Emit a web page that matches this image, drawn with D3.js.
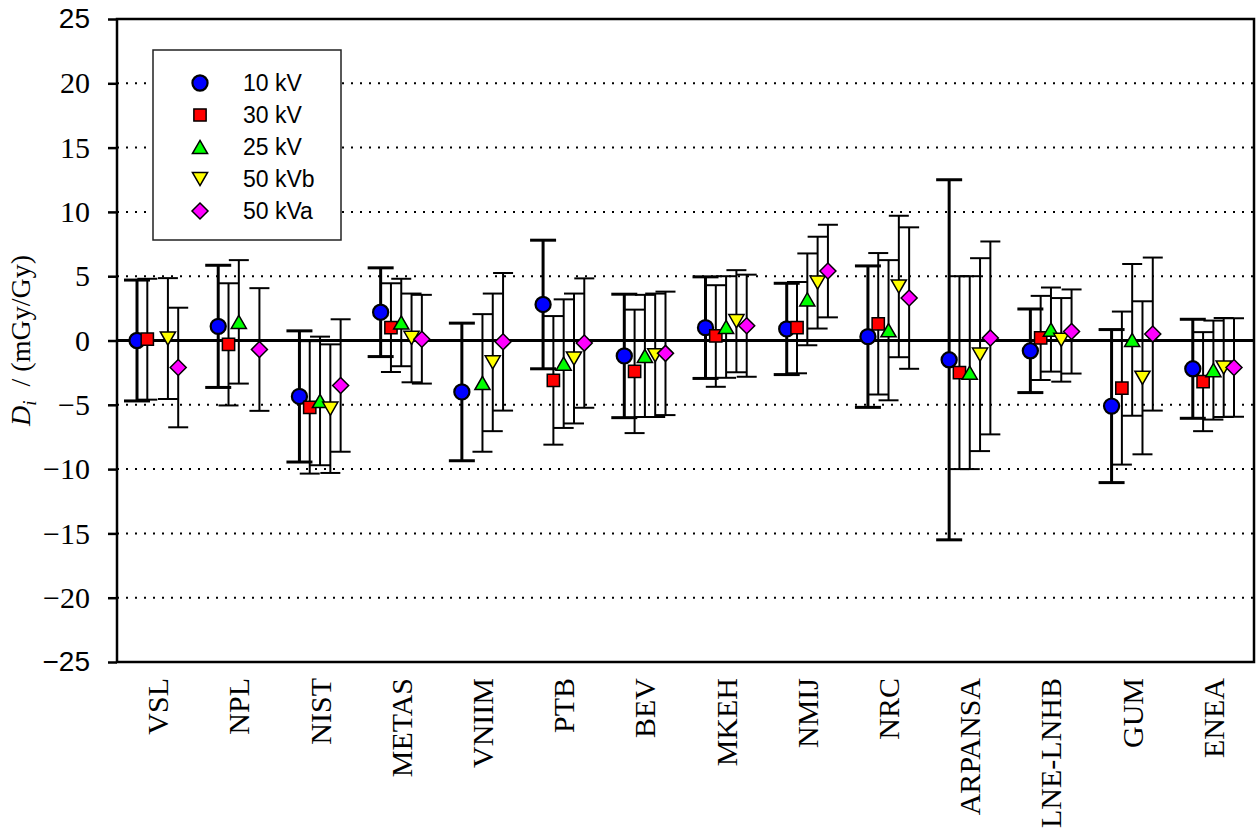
<!DOCTYPE html>
<html>
<head>
<meta charset="utf-8">
<script src="https://cdn.jsdelivr.net/npm/d3@7"></script>
<style>
  body { margin: 0; background: #fff; }
  svg { display: block; }
</style>
</head>
<body>
<div id="viz_container"></div>
<script>
// labs along the x axis
const labs = ["VSL", "NPL", "NIST", "METAS", "VNIIM", "PTB", "BEV", "MKEH",
              "NMIJ", "NRC", "ARPANSA", "LNE-LNHB", "GUM", "ENEA"];

// series names (legend order)
const seriesNames = ["10 kV", "30 kV", "25 kV", "50 kVb", "50 kVa"];

// D_i values in mGy/Gy (null = no result)
const d10  = [0.0, 1.1, -4.35, 2.2, -4.0, 2.8, -1.2, 1.0, 0.9, 0.3, -1.5, -0.8, -5.1, -2.2];
const d30  = [0.1, -0.3, -5.2, 1.0, null, -3.1, -2.4, 0.35, 1.0, 1.3, -2.5, 0.2, -3.7, -3.2];
const d25  = [null, 1.45, -4.7, 1.4, -3.3, -1.8, -1.2, 1.05, 3.2, 0.8, -2.5, 0.85, 0.05, -2.3];
const d50b = [0.15, null, -5.3, 0.2, -1.7, -1.4, -1.15, 1.5, 4.5, 4.2, -1.1, 0.05, -2.9, -2.1];
const d50a = [-2.1, -0.7, -3.5, 0.1, -0.1, -0.2, -1.0, 1.15, 5.4, 3.3, 0.2, 0.7, 0.5, -2.1];

// expanded uncertainties U_i (symmetric error bars)
const u10  = [4.7, 4.75, 5.1, 3.45, 5.35, 5.0, 4.8, 3.95, 3.55, 5.5, 14.0, 3.25, 5.95, 3.85];
const u30  = [4.7, 4.75, 5.15, 3.45, null, 5.0, 4.8, 3.95, 3.55, 5.5, 7.5, 3.27, 5.95, 3.85];
const u25  = [null, 4.8, 5.0, 3.4, 5.35, 5.0, 4.75, 3.95, 3.57, 5.45, 7.5, 3.27, 5.9, 3.85];
const u50b = [4.7, null, 5.0, 3.45, 5.35, 5.05, 4.8, 3.97, 3.57, 5.5, 7.5, 3.25, 5.95, 3.85];
const u50a = [4.65, 4.77, 5.15, 3.45, 5.35, 5.03, 4.8, 3.97, 3.6, 5.5, 7.5, 3.27, 5.95, 3.83];

// y tick values
const yTicks = [-25, -20, -15, -10, -5, 0, 5, 10, 15, 20, 25];
const gridValues = [-20, -15, -10, -5, 5, 10, 15, 20];

// custom marker shapes for d3.symbol
const symSquare = { draw(ctx, size) { const s = Math.sqrt(size) / 2;
  ctx.moveTo(-s, -s); ctx.lineTo(s, -s); ctx.lineTo(s, s); ctx.lineTo(-s, s); ctx.closePath(); } };
const symTriUp = { draw(ctx, size) { const w = Math.sqrt(size) / 2, h = w * 0.87;
  ctx.moveTo(0, -h); ctx.lineTo(w, h); ctx.lineTo(-w, h); ctx.closePath(); } };
const symTriDown = { draw(ctx, size) { const w = Math.sqrt(size) / 2, h = w * 0.87;
  ctx.moveTo(0, h); ctx.lineTo(w, -h); ctx.lineTo(-w, -h); ctx.closePath(); } };
const symDiamond = { draw(ctx, size) { const s = Math.sqrt(size) / 2;
  ctx.moveTo(0, -s); ctx.lineTo(s, 0); ctx.lineTo(0, s); ctx.lineTo(-s, 0); ctx.closePath(); } };

const series = [
  {name: seriesNames[0], vals: d10,  errs: u10,  fill: "#0000ff", type: d3.symbolCircle, size: 180, sw: 2.2, barW: 3, cap: 26},
  {name: seriesNames[1], vals: d30,  errs: u30,  fill: "#ff0000", type: symSquare,  size: 150, sw: 1.5, barW: 2, cap: 20},
  {name: seriesNames[2], vals: d25,  errs: u25,  fill: "#00ff00", type: symTriUp,   size: 230, sw: 1.5, barW: 2, cap: 20},
  {name: seriesNames[3], vals: d50b, errs: u50b, fill: "#ffff00", type: symTriDown, size: 230, sw: 1.5, barW: 2, cap: 20},
  {name: seriesNames[4], vals: d50a, errs: u50a, fill: "#ff00ff", type: symDiamond, size: 256, sw: 1.5, barW: 2, cap: 20}
];

const W = 1256, H = 832;
const margin = {top: 19, right: 2, bottom: 170, left: 117};

const svg = d3.select("#viz_container")
  .append("svg")
    .attr("width", W)
    .attr("height", H);

// scales
const xScale = d3.scaleBand()
  .domain(labs)
  .range([margin.left, W - margin.right])
  .padding(0);

const slot = d3.scalePoint()
  .domain(seriesNames)
  .range([-20.6, 20.6]);

const yScale = d3.scaleLinear()
  .domain([-25, 25])
  .range([H - margin.bottom, margin.top]);

const cx = (i, s) => xScale(labs[i]) + xScale.bandwidth() / 2 + slot(s.name);

// dotted grid lines
svg.append("g")
  .selectAll("line")
  .data(gridValues)
  .join("line")
    .attr("x1", margin.left)
    .attr("x2", W - margin.right)
    .attr("y1", d => yScale(d))
    .attr("y2", d => yScale(d))
    .style("stroke", "#000")
    .style("stroke-width", 2)
    .style("stroke-dasharray", "2,7");

// zero line
svg.append("line")
  .attr("x1", margin.left)
  .attr("x2", W - margin.right)
  .attr("y1", yScale(0))
  .attr("y2", yScale(0))
  .style("stroke", "#000")
  .style("stroke-width", 3);

// legend box (drawn before the data so bars stay visible)
const legend = svg.append("g").attr("transform", "translate(153, 50)");
legend.append("rect")
  .attr("width", 188)
  .attr("height", 190)
  .style("fill", "#fff")
  .style("stroke", "#222")
  .style("stroke-width", 1.5);

legend.selectAll("path")
  .data(series)
  .join("path")
    .attr("transform", (d, i) => `translate(47, ${33 + i * 32})`)
    .attr("d", d => d3.symbol(d.type, d.size)())
    .style("fill", d => d.fill)
    .style("stroke", "#000")
    .style("stroke-width", d => d.sw);

legend.selectAll("text")
  .data(series)
  .join("text")
    .attr("x", 90)
    .attr("y", (d, i) => 33 + i * 32)
    .attr("dy", "0.36em")
    .style("font-family", "'Liberation Sans', Arial, sans-serif")
    .style("font-size", "23px")
  .text(d => d.name);

// error bars
series.forEach(s => {
  const pts = s.vals.map((v, i) => ({v, e: s.errs[i], i})).filter(p => p.v !== null);
  const g = svg.append("g")
    .style("stroke", "#000")
    .style("stroke-width", s.barW);
  g.selectAll(".bar")
    .data(pts)
    .join("line")
      .attr("x1", p => cx(p.i, s))
      .attr("x2", p => cx(p.i, s))
      .attr("y1", p => yScale(p.v + p.e))
      .attr("y2", p => yScale(p.v - p.e));
  g.selectAll(".capTop")
    .data(pts)
    .join("line")
      .attr("class", "capTop")
      .attr("x1", p => cx(p.i, s) - s.cap / 2)
      .attr("x2", p => cx(p.i, s) + s.cap / 2)
      .attr("y1", p => yScale(p.v + p.e))
      .attr("y2", p => yScale(p.v + p.e));
  g.selectAll(".capBot")
    .data(pts)
    .join("line")
      .attr("class", "capBot")
      .attr("x1", p => cx(p.i, s) - s.cap / 2)
      .attr("x2", p => cx(p.i, s) + s.cap / 2)
      .attr("y1", p => yScale(p.v - p.e))
      .attr("y2", p => yScale(p.v - p.e));
});

// markers
series.forEach(s => {
  const pts = s.vals.map((v, i) => ({v, i})).filter(p => p.v !== null);
  svg.append("g")
    .selectAll("path")
    .data(pts)
    .join("path")
      .attr("transform", p => `translate(${cx(p.i, s)}, ${yScale(p.v)})`)
      .attr("d", d3.symbol(s.type, s.size))
      .style("fill", s.fill)
      .style("stroke", "#000")
      .style("stroke-width", s.sw);
});

// plot frame
svg.append("rect")
  .attr("x", margin.left)
  .attr("y", margin.top)
  .attr("width", W - margin.right - margin.left)
  .attr("height", H - margin.bottom - margin.top)
  .style("fill", "none")
  .style("stroke", "#000")
  .style("stroke-width", 2.5);

// Y axis
svg.append("g")
  .attr("transform", `translate(${margin.left}, 0)`)
  .call(d3.axisLeft(yScale).tickValues(yTicks).tickSize(9).tickPadding(18).tickFormat(d3.format("d")))
  .call(g => g.select(".domain").remove())
  .call(g => g.selectAll(".tick line").style("stroke", "#000").style("stroke-width", 2.5))
  .call(g => g.selectAll(".tick text")
    .style("fill", "#000")
    .style("font-size", d => Math.abs(d) === 25 ? "28px" : "30px")
    .style("font-family", d => Math.abs(d) === 25
      ? "'Liberation Sans', Arial, sans-serif"
      : "'Liberation Serif', 'Times New Roman', serif"));

// X axis (rotated lab names)
svg.append("g")
  .attr("transform", `translate(0, ${H - margin.bottom})`)
  .call(d3.axisBottom(xScale).tickSize(0))
  .call(g => g.select(".domain").remove())
  .call(g => g.selectAll(".tick text")
    .attr("transform", "rotate(-90)")
    .attr("x", -16)
    .attr("y", 0)
    .attr("dy", "0.35em")
    .style("text-anchor", "end")
    .style("fill", "#000")
    .style("font-size", "30px")
    .style("font-family", "'Liberation Serif', 'Times New Roman', serif"));

// Y axis title: D_i / (mGy/Gy)
const ytitle = svg.append("text")
  .attr("transform", `translate(30, ${yScale(0)}) rotate(-90)`)
  .attr("text-anchor", "middle")
  .style("font-family", "'Liberation Serif', 'Times New Roman', serif")
  .style("font-size", "28px");
ytitle.append("tspan").style("font-style", "italic").text("D");
ytitle.append("tspan").style("font-style", "italic").style("font-size", "19px").attr("dy", 6).text("i");
ytitle.append("tspan").attr("dy", -6).text("\u00a0\u00a0/ (mGy/Gy)");
</script>
</body>
</html>
